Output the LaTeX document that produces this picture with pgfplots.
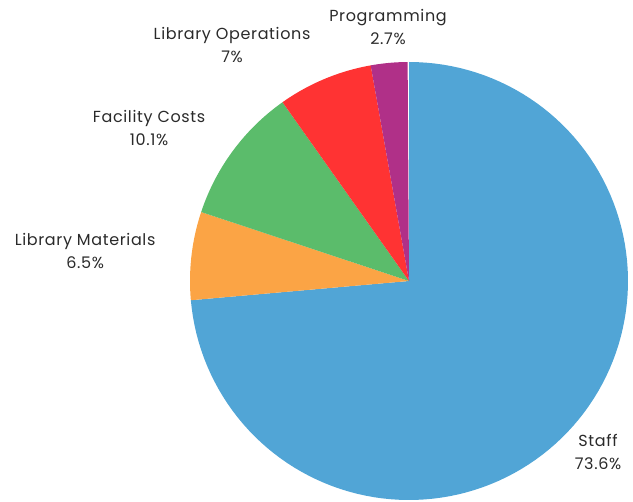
\documentclass[border=0pt]{standalone}
\usepackage{pgfplots}
\pgfplotsset{compat=1.18}
\usepackage{fontspec}
\setmainfont{Poppins}[LetterSpace=4]
\definecolor{cStaff}{RGB}{81,165,214}
\definecolor{cMat}{RGB}{251,164,69}
\definecolor{cFac}{RGB}{91,188,107}
\definecolor{cOps}{RGB}{255,51,51}
\definecolor{cProg}{RGB}{176,48,136}
\definecolor{txt}{RGB}{42,42,42}
% shares in percent
\def\vStaff{73.6}
\def\vMat{6.5}
\def\vFac{10.1}
\def\vOps{7}
\def\vProg{2.7}
\pgfmathsetmacro\aA{90}
\pgfmathsetmacro\aB{\aA-\vStaff*3.6}
\pgfmathsetmacro\aC{\aB-\vMat*3.6}
\pgfmathsetmacro\aD{\aC-\vFac*3.6}
\pgfmathsetmacro\aE{\aD-\vOps*3.6}
\pgfmathsetmacro\aF{\aE-\vProg*3.6}
\begin{document}
\begin{tikzpicture}
\begin{axis}[
  hide axis, scale only axis,
  width=633bp, height=502bp,
  xmin=-1.8676, xmax=1.0228, ymin=-1.0091, ymax=1.2831,
  clip=false,
  samples=120, variable=\t,
]
\path (rel axis cs:0,0) rectangle (rel axis cs:1,1);
\addplot[fill=cStaff, draw=none, domain=\aB:\aA] ({cos(\t)},{sin(\t)}) -- (axis cs:0,0) -- cycle;
\addplot[fill=cMat, draw=none, domain=\aC:\aB] ({cos(\t)},{sin(\t)}) -- (axis cs:0,0) -- cycle;
\addplot[fill=cFac, draw=none, domain=\aD:\aC] ({cos(\t)},{sin(\t)}) -- (axis cs:0,0) -- cycle;
\addplot[fill=cOps, draw=none, domain=\aE:\aD] ({cos(\t)},{sin(\t)}) -- (axis cs:0,0) -- cycle;
\addplot[fill=cProg, draw=none, domain=\aF:\aE] ({cos(\t)},{sin(\t)}) -- (axis cs:0,0) -- cycle;
\begin{scope}[every node/.style={align=center, text=txt, font=\fontsize{16bp}{23.5bp}\selectfont}]
\node at (axis cs:0.863,-0.781) {Staff\\73.6\%};
\node at (axis cs:-1.479,0.137) {Library Materials\\6.5\%};
\node at (axis cs:-1.187,0.699) {Facility Costs\\10.1\%};
\node at (axis cs:-0.808,1.078) {Library Operations\\7\%};
\node at (axis cs:-0.096,1.160) {Programming\\2.7\%};
\end{scope}
\end{axis}
\end{tikzpicture}
\end{document}
